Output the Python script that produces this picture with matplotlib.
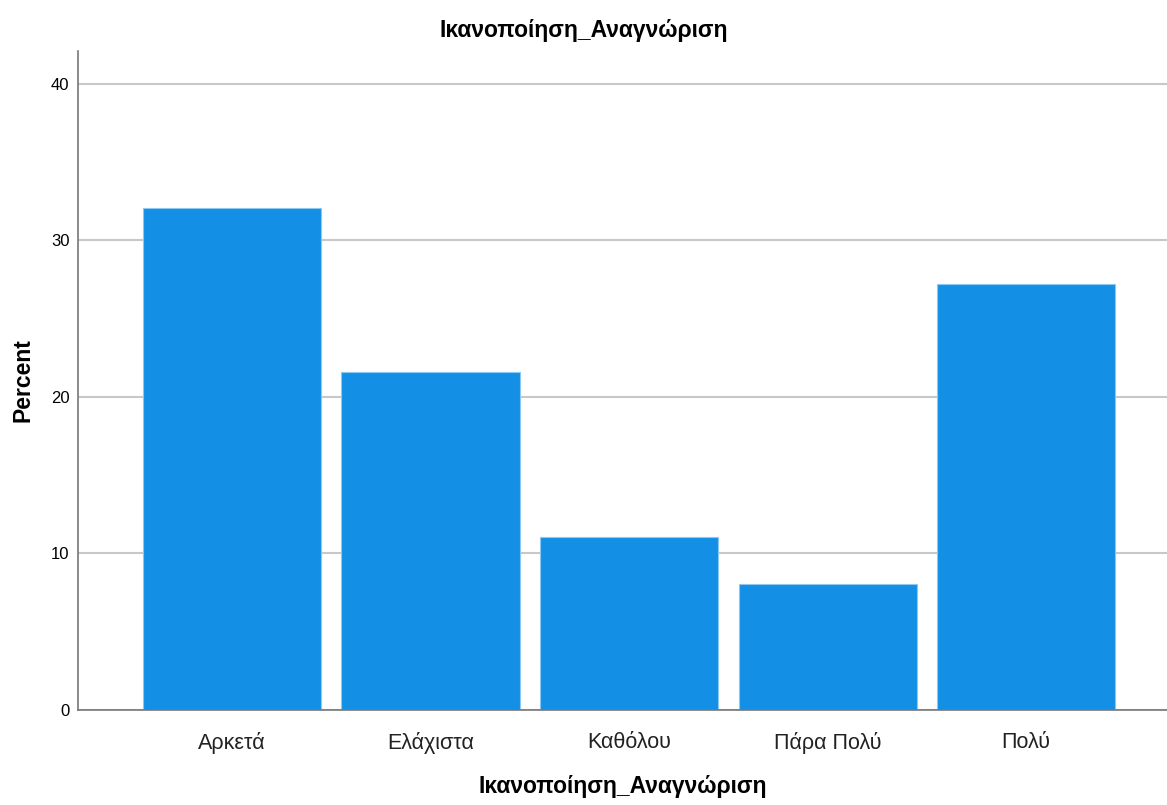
import matplotlib
matplotlib.use("Agg")
import matplotlib.pyplot as plt

categories = ["Αρκετά", "Ελάχιστα", "Καθόλου", "Πάρα Πολύ", "Πολύ"]
percent = [32.1, 21.6, 11.05, 8.05, 27.2]
yticks = [0, 10, 20, 30, 40]
title = "Ικανοποίηση_Αναγνώριση"

plt.rcParams['font.family'] = ['Liberation Sans', 'DejaVu Sans']

fig = plt.figure(figsize=(11.67, 8.05), dpi=100)
ax = fig.add_axes([0.0668, 0.118, 0.9332, 0.8186])

x = list(range(len(categories)))
ax.bar(x, percent, width=0.897, color="#1390e6", edgecolor="#8cc8f2", linewidth=0.8, zorder=3)

ax.set_xlim(-0.776, 4.71)
ax.set_ylim(0, 42.1)
ax.set_yticks(yticks)
ax.set_xticks(x)
ax.set_xticklabels(categories, fontsize=15.5, color="#222222")
for lab in ax.get_yticklabels():
    lab.set_fontsize(12)
ax.tick_params(axis='y', length=0, pad=6)
ax.tick_params(axis='x', length=0, pad=16)
ax.yaxis.grid(True, color="#c8c8c8", linewidth=1.5, zorder=0)
ax.set_axisbelow(True)
for s in ["top", "right"]:
    ax.spines[s].set_visible(False)
for s in ["left", "bottom"]:
    ax.spines[s].set_color("#777777")
    ax.spines[s].set_linewidth(1.2)
    ax.spines[s].set_zorder(4)

ax.set_ylabel("Percent", fontsize=16.5, fontweight="bold", labelpad=12)
ax.set_xlabel(title, fontsize=16.5, fontweight="bold", labelpad=15)
fig.text(0.5, 0.962, title, ha="center", va="center", fontsize=16.5, fontweight="bold")

fig.savefig("out.png", dpi=100)
